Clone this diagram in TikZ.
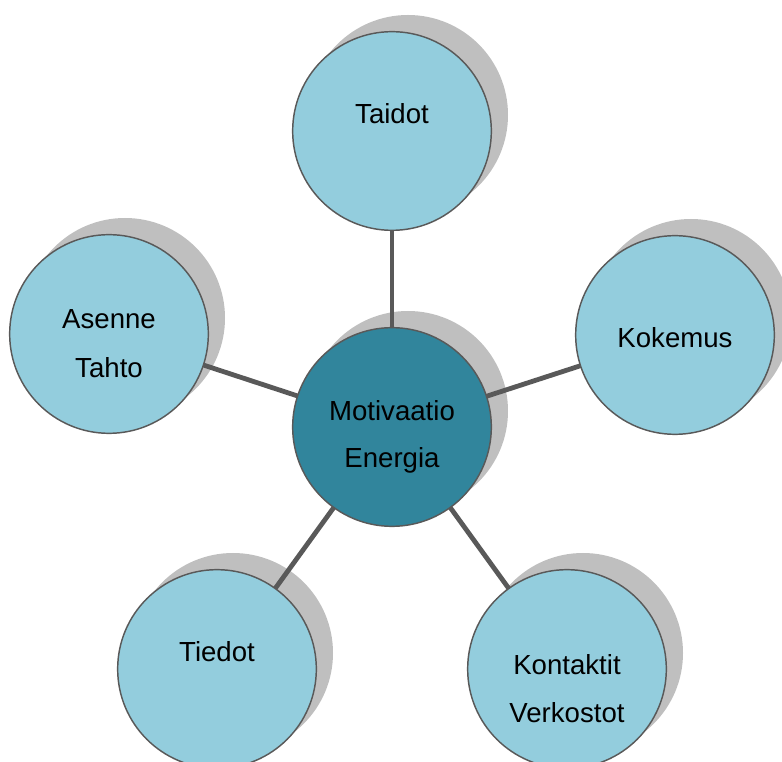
\documentclass[tikz,border=0pt]{standalone}
\usepackage{fontspec}
\setmainfont{Liberation Sans}
\definecolor{light}{HTML}{93CDDD}
\definecolor{dark}{HTML}{31859C}
\definecolor{shade}{HTML}{BFBFBF}
\definecolor{edge}{HTML}{595959}
\begin{document}
\begin{tikzpicture}[x=0.75pt,y=-0.75pt,
  bubble/.style={circle,draw=edge,line width=1.1pt,minimum size=149pt,inner sep=0pt,fill=light},
  shadowdisc/.style={circle,fill=shade,minimum size=150pt,inner sep=0pt},
  link/.style={draw=edge,line width=3.6pt},
  lbl/.style={anchor=base,font=\fontsize{20.7pt}{24pt}\selectfont,inner sep=0pt}]
\useasboundingbox (0,0) rectangle (782,762);
\clip (0,0) rectangle (782,762);
% centres
\coordinate (cM) at (392,427);
\coordinate (cT) at (392,131);
\coordinate (cK) at (675,335);
\coordinate (cA) at (109,334);
\coordinate (cV) at (567,669);
\coordinate (cI) at (217,669);
% shadows
\foreach \c in {cM,cT,cK,cA,cV,cI}
  \node[shadowdisc] (s\c) at ([shift={(16,-16)}]\c) {};
% connectors
\draw[link] (cM) -- (cT);
\draw[link] (cM) -- (cK);
\draw[link] (cM) -- (cA);
\draw[link] (cM) -- (cV);
\draw[link] (cM) -- (cI);
% circles
\node[bubble,fill=dark] (M) at (cM) {};
\node[bubble] (T) at (cT) {};
\node[bubble] (K) at (cK) {};
\node[bubble] (A) at (cA) {};
\node[bubble] (V) at (cV) {};
\node[bubble] (I) at (cI) {};
% labels
\node[lbl] (tM1) at (392,421) {Motivaatio};
\node[lbl] (tM2) at (392,468) {Energia};
\node[lbl] (tT) at (392,124) {Taidot};
\node[lbl] (tK) at (675,348) {Kokemus};
\node[lbl] (tA1) at (109,329) {Asenne};
\node[lbl] (tA2) at (109,378) {Tahto};
\node[lbl] (tV1) at (567,674) {Kontaktit};
\node[lbl] (tV2) at (567,722) {Verkostot};
\node[lbl] (tI) at (217,662) {Tiedot};
\end{tikzpicture}
\end{document}
